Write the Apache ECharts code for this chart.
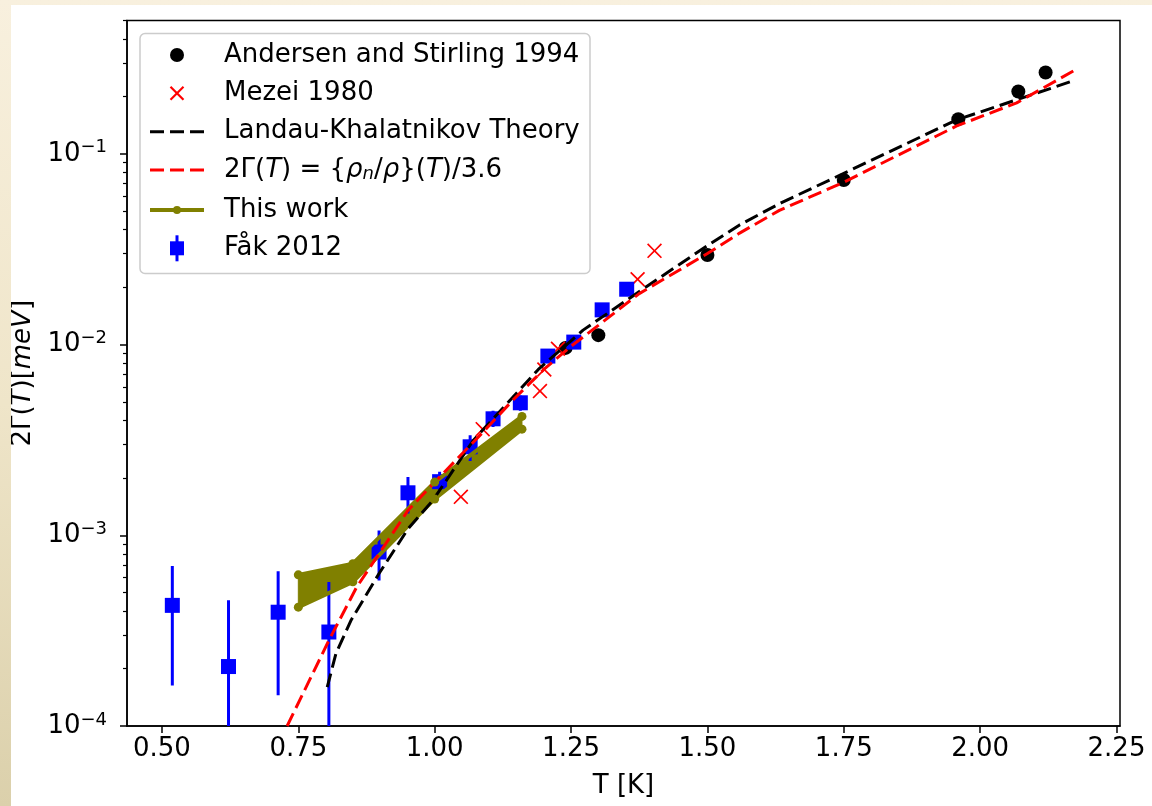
<!DOCTYPE html>
<html><head><meta charset="utf-8">
<script src="https://cdn.jsdelivr.net/npm/echarts@6/dist/echarts.min.js"></script>
<style>
html,body{margin:0;padding:0;width:1152px;height:806px;overflow:hidden;
background:linear-gradient(to bottom,#f8f0de 0%,#efe5c9 50%,#dbd0ab 100%);}
#chart{position:absolute;left:11px;top:5px;width:1141px;height:801px;background:#fff;}
</style></head><body><div id="chart"></div>
<script>
// ---------- data ----------
const andersenT = [1.24, 1.30, 1.50, 1.75, 1.96, 2.07, 2.12];
const andersenG = [0.0096, 0.0112, 0.0295, 0.0729, 0.152, 0.212, 0.267];

const mezeiT = [1.048, 1.088, 1.193, 1.201, 1.226, 1.372, 1.403];
const mezeiG = [0.00159, 0.0036, 0.0057, 0.0074, 0.0095, 0.022, 0.031];

const lkT = [0.803, 0.819, 0.847, 0.898, 0.951, 0.997, 1.071, 1.19, 1.272, 1.388, 1.50, 1.559, 1.636, 1.748, 1.957, 2.067, 2.168];
const lkG = [1.6e-4, 2.4e-4, 3.6e-4, 6.3e-4, 1.08e-3, 1.53e-3, 3.15e-3, 7.4e-3, 0.0119, 0.0201, 0.033, 0.0424, 0.0555, 0.0785, 0.1507, 0.192, 0.240];

const rhoT = [0.7295, 0.806, 0.857, 0.898, 0.951, 1.009, 1.0885, 1.143, 1.20, 1.25, 1.30, 1.375, 1.50, 1.559, 1.632, 1.748, 1.957, 2.067, 2.173];
const rhoG = [1.0e-4, 2.81e-4, 5.35e-4, 8.0e-4, 1.35e-3, 2.02e-3, 3.47e-3, 5.1e-3, 7.4e-3, 9.8e-3, 0.0126, 0.0185, 0.030, 0.0384, 0.0505, 0.0705, 0.140, 0.185, 0.274];

const thisWorkT = [0.75, 0.85, 1.00, 1.16];
const thisWorkUpper = [6.2e-4, 7.1e-4, 1.9e-3, 4.2e-3];
const thisWorkLower = [4.2e-4, 5.7e-4, 1.55e-3, 3.6e-3];

const fakT = [0.519, 0.622, 0.713, 0.806, 0.898, 0.951, 1.009, 1.065, 1.107, 1.157, 1.2075, 1.255, 1.307, 1.352];
const fakG = [4.29e-4, 2.05e-4, 3.95e-4, 3.11e-4, 8.17e-4, 1.67e-3, 1.91e-3, 2.91e-3, 4.08e-3, 4.95e-3, 8.7e-3, 0.0103, 0.0152, 0.0195];
const fakLow = [1.63e-4, 1e-5, 1.45e-4, 1e-5, 5.8e-4, 1.3e-3, 1.7e-3, 2.45e-3, 3.7e-3, 4.5e-3, 8.0e-3, 9.6e-3, 0.0142, 0.0183];
const fakHigh = [6.9e-4, 4.56e-4, 6.47e-4, 5.69e-4, 1.06e-3, 2.02e-3, 2.15e-3, 3.35e-3, 4.5e-3, 5.4e-3, 9.4e-3, 0.011, 0.0162, 0.0207];

const xTickValues = [0.50, 0.75, 1.00, 1.25, 1.50, 1.75, 2.00, 2.25];
const yTickValues = [1e-4, 1e-3, 1e-2, 1e-1];
const minorMultipliers = [2, 3, 4, 5, 6, 7, 8, 9];
const minorDecades = [1e-4, 1e-3, 1e-2, 1e-1];

const legendLabels = ['Andersen and Stirling 1994', 'Mezei 1980', 'Landau-Khalatnikov Theory',
  '2Γ({i|T}) = {{i|ρ}{sub|n}/{i|ρ}}({i|T})/3.6', 'This work', 'Fåk 2012'];

// ---------- build ----------
const FONT = 'DejaVu Sans';
const FS = 26;
const zip = (a, b) => a.map((v, i) => [v, b[i]]);
const minorVals = [];
minorDecades.forEach(d => minorMultipliers.forEach(m => { const v = m * d; if (v <= 0.5) minorVals.push(v); }));

const OLIVE = '#808000';
const xShape = 'path://M0,8L8,0L50,42L92,0L100,8L58,50L100,92L92,100L50,58L8,100L0,92L42,50Z';

const chart = echarts.init(document.getElementById('chart'));

const lx = 166, tx = 213, rows = [50, 88.3, 126.7, 165, 205, 243.3];
const legendGraphics = [
  {type:'rect', z:100, shape:{x:129, y:28.5, width:450, height:240, r:5},
   style:{fill:'rgba(255,255,255,0.85)', stroke:'#cccccc', lineWidth:1.5}},
  {type:'circle', z:101, shape:{cx:lx, cy:rows[0], r:7}, style:{fill:'#000'}},
  {type:'line', z:101, shape:{x1:lx-6.5, y1:rows[1]-6.5, x2:lx+6.5, y2:rows[1]+6.5}, style:{stroke:'#ff0000', lineWidth:2.2}},
  {type:'line', z:101, shape:{x1:lx-6.5, y1:rows[1]+6.5, x2:lx+6.5, y2:rows[1]-6.5}, style:{stroke:'#ff0000', lineWidth:2.2}},
  {type:'line', z:101, shape:{x1:lx-27, y1:rows[2], x2:lx+27, y2:rows[2]}, style:{stroke:'#000', lineWidth:3, lineDash:[14,6]}},
  {type:'line', z:101, shape:{x1:lx-27, y1:rows[3], x2:lx+27, y2:rows[3]}, style:{stroke:'#ff0000', lineWidth:3, lineDash:[14,6]}},
  {type:'line', z:101, shape:{x1:lx-27, y1:rows[4], x2:lx+27, y2:rows[4]}, style:{stroke:OLIVE, lineWidth:4}},
  {type:'circle', z:101, shape:{cx:lx, cy:rows[4], r:4}, style:{fill:OLIVE}},
  {type:'line', z:101, shape:{x1:lx, y1:rows[5]-13, x2:lx, y2:rows[5]+13}, style:{stroke:'#0000ff', lineWidth:3}},
  {type:'rect', z:101, shape:{x:lx-7, y:rows[5]-7, width:14, height:14}, style:{fill:'#0000ff'}}
];
legendLabels.forEach((t, i) => legendGraphics.push({
  type:'text', z:101, x:tx, y:rows[i],
  style:{text:t, fontFamily:FONT, fontSize:FS, fill:'#000', verticalAlign:'middle', align:'left',
    rich:{i:{fontFamily:FONT, fontSize:FS, fontStyle:'italic'}, sub:{fontFamily:FONT, fontSize:18, fontStyle:'italic', verticalAlign:'bottom', lineHeight:6}}}
}));

const option = {
  animation:false,
  grid:{left:116, right:32, top:15.5, bottom:80, show:true, borderColor:'#000', borderWidth:1.5, backgroundColor:'#fff', outerBoundsMode:'none', containLabel:false},
  xAxis:{type:'value', min:0.4359, max:2.2564,
    name:'T [K]', nameLocation:'middle', nameGap:47, nameTextStyle:{fontFamily:FONT, fontSize:FS, color:'#000'},
    axisLine:{show:true, lineStyle:{color:'#000', width:1.5}},
    axisTick:{show:true, length:7, lineStyle:{color:'#000', width:1.5}, customValues:xTickValues},
    axisLabel:{customValues:xTickValues, formatter:v => v.toFixed(2), fontFamily:FONT, fontSize:FS, color:'#000', margin:10},
    splitLine:{show:false}},
  yAxis:[
    {type:'log', logBase:10, min:1e-4, max:0.5,
     name:'2Γ({i|T})[{i|meV}]', nameLocation:'middle', nameGap:82, nameRotate:90,
     nameTextStyle:{fontFamily:FONT, fontSize:FS, color:'#000', rich:{i:{fontFamily:FONT, fontSize:FS, fontStyle:'italic', color:'#000'}}},
     axisLine:{show:true, lineStyle:{color:'#000', width:1.5}},
     axisTick:{show:true, length:7, lineStyle:{color:'#000', width:1.5}, customValues:yTickValues},
     axisLabel:{customValues:yTickValues, margin:20, color:'#000',
       formatter:v => '{b|10}{s|−' + Math.abs(Math.round(Math.log10(v))) + '}',
       rich:{b:{fontFamily:FONT, fontSize:FS, color:'#000', lineHeight:30}, s:{fontFamily:FONT, fontSize:18, color:'#000', verticalAlign:'top', lineHeight:12}}},
     splitLine:{show:false}, minorTick:{show:false}},
    {type:'log', logBase:10, min:1e-4, max:0.5, position:'left',
     axisLine:{show:false}, axisLabel:{show:false}, splitLine:{show:false},
     axisTick:{show:true, length:4, lineStyle:{color:'#000', width:1.2}, customValues:minorVals}}
  ],
  graphic:legendGraphics,
  series:[
    {type:'custom', name:'This work band', clip:true, data:[[thisWorkT[0], thisWorkUpper[0]]],
     renderItem:(params, api) => {
       const pts = [];
       thisWorkT.forEach((t, i) => pts.push(api.coord([t, thisWorkUpper[i]])));
       for (let i = thisWorkT.length - 1; i >= 0; i--) pts.push(api.coord([thisWorkT[i], thisWorkLower[i]]));
       return {type:'polygon', shape:{points:pts}, style:{fill:OLIVE, stroke:OLIVE, lineWidth:1}};
     }},
    {type:'line', name:'This work', data:zip(thisWorkT, thisWorkUpper), symbol:'circle', symbolSize:9,
     lineStyle:{color:OLIVE, width:4}, itemStyle:{color:OLIVE}},
    {type:'line', name:'This work low', data:zip(thisWorkT, thisWorkLower), symbol:'circle', symbolSize:9,
     lineStyle:{color:OLIVE, width:4}, itemStyle:{color:OLIVE}},
    {type:'scatter', name:'Andersen and Stirling 1994', data:zip(andersenT, andersenG), symbol:'circle', symbolSize:14,
     itemStyle:{color:'#000', opacity:1}},
    {type:'scatter', name:'Mezei 1980', data:zip(mezeiT, mezeiG), symbol:xShape, symbolSize:15,
     itemStyle:{color:'#ff0000', opacity:1}},
    {type:'line', name:'Landau-Khalatnikov Theory', data:zip(lkT, lkG), symbol:'none', clip:true,
     lineStyle:{color:'#000', width:3, type:[14,6]}},
    {type:'line', name:'rho', data:zip(rhoT, rhoG), symbol:'none', clip:true,
     lineStyle:{color:'#ff0000', width:3, type:[14,6]}},
    {type:'custom', name:'Fåk errors', clip:true, data:fakT.map((t, i) => [t, fakLow[i], fakHigh[i]]),
     encode:{x:0, y:[1,2]},
     renderItem:(params, api) => {
       const p1 = api.coord([api.value(0), api.value(1)]);
       const p2 = api.coord([api.value(0), api.value(2)]);
       return {type:'line', shape:{x1:p1[0], y1:p1[1], x2:p2[0], y2:p2[1]}, style:{stroke:'#0000ff', lineWidth:3}};
     }},
    {type:'scatter', name:'Fåk 2012', data:zip(fakT, fakG), symbol:'rect', symbolSize:15,
     itemStyle:{color:'#0000ff', opacity:1}}
  ]
};
chart.setOption(option);
</script></body></html>
